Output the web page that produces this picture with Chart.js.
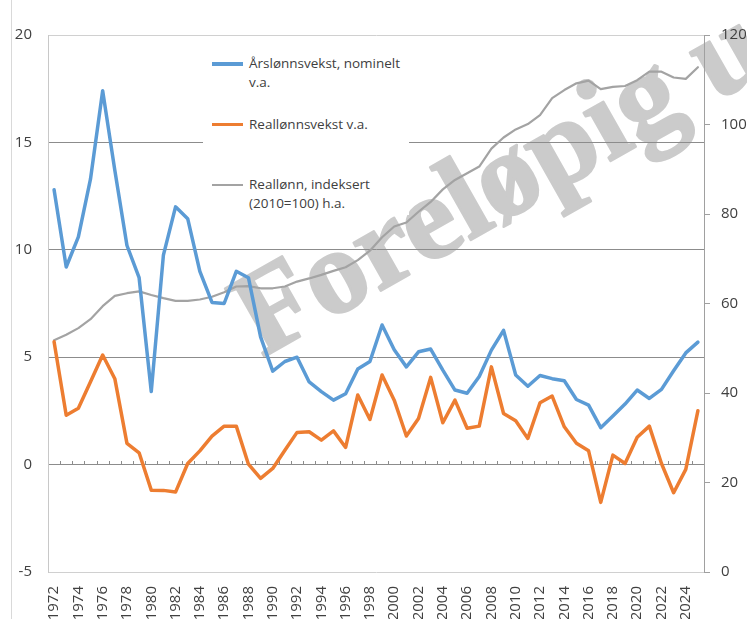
<!DOCTYPE html>
<html><head><meta charset="utf-8">
<script src="https://cdn.jsdelivr.net/npm/chart.js@4.4.1/dist/chart.umd.min.js"></script>
<style>
html,body{margin:0;padding:0;background:#fff;}
#wrap{position:relative;width:747px;height:619px;overflow:hidden;font-family:"Open Sans",sans-serif;}
#frame{position:absolute;left:11px;top:0;width:1px;height:619px;background:#d9d9d9;}
canvas{position:absolute;left:0;top:0;}
#legend{position:absolute;left:203px;top:45px;width:206px;height:170px;background:#fff;}
.sw{position:absolute;left:9px;width:31px;}
.lbl{position:absolute;left:46px;font-size:13.5px;line-height:18.5px;color:#404040;white-space:pre;}
</style></head><body>
<div id="wrap"><div id="frame"></div><canvas id="c" width="747" height="619"></canvas><div id="legend"></div></div>
<script>
const years = [1972,1973,1974,1975,1976,1977,1978,1979,1980,1981,1982,1983,1984,1985,1986,1987,1988,1989,1990,1991,1992,1993,1994,1995,1996,1997,1998,1999,2000,2001,2002,2003,2004,2005,2006,2007,2008,2009,2010,2011,2012,2013,2014,2015,2016,2017,2018,2019,2020,2021,2022,2023,2024,2025];
const nominalGrowth = [12.8,9.2,10.6,13.3,17.4,13.7,10.2,8.7,3.4,9.75,12.0,11.45,9.0,7.55,7.5,9.0,8.7,5.95,4.35,4.8,5.0,3.85,3.4,3.0,3.3,4.45,4.8,6.5,5.35,4.55,5.25,5.38,4.4,3.47,3.32,4.1,5.33,6.25,4.17,3.65,4.15,4.0,3.9,3.03,2.77,1.72,2.26,2.82,3.47,3.08,3.5,4.37,5.2,5.7];
const realGrowth = [5.72,2.3,2.62,3.86,5.1,4.0,0.99,0.55,-1.19,-1.2,-1.28,0.05,0.64,1.33,1.79,1.79,0.02,-0.64,-0.18,0.67,1.5,1.53,1.14,1.57,0.8,3.24,2.1,4.17,3.0,1.33,2.15,4.06,1.95,3.0,1.69,1.79,4.55,2.38,2.04,1.22,2.88,3.19,1.76,0.99,0.64,-1.76,0.44,0.05,1.27,1.79,0.05,-1.31,-0.22,2.51];
const realIndex = [51.8,53.0,54.5,56.5,59.4,61.7,62.3,62.7,61.9,61.2,60.6,60.6,60.9,61.5,62.5,63.8,63.9,63.4,63.4,63.8,64.9,65.6,66.4,67.3,68.1,69.7,71.8,74.8,77.2,78.1,80.5,82.7,85.5,87.6,89.1,90.6,94.6,97.1,98.9,100.1,102.1,105.9,107.7,109.2,109.8,107.9,108.4,108.6,109.9,111.8,111.8,110.5,110.2,112.8];
const seriesLabels = ['Årslønnsvekst, nominelt\nv.a.','Reallønnsvekst v.a.','Reallønn, indeksert\n(2010=100) h.a.'];
const seriesColors = ['#5b9bd5','#ed7d31','#a3a3a3'];
const leftTicks = {min:-5,max:20,step:5};
const rightTicks = {min:0,max:120,step:20};
const watermarkText = 'Foreløpig utgave';

// legend (HTML)
const legendCenters = [19, 79.3, 140];
const legendWidths = [3.5, 3.5, 2.5];
const leg = document.getElementById('legend');
seriesLabels.forEach((t,i)=>{
  const sw=document.createElement('div'); sw.className='sw';
  sw.style.top=(legendCenters[i]-legendWidths[i]/2)+'px'; sw.style.height=legendWidths[i]+'px'; sw.style.background=seriesColors[i];
  leg.appendChild(sw);
  const lb=document.createElement('div'); lb.className='lbl'; lb.textContent=t;
  lb.style.top=(legendCenters[i]-9.75)+'px'; leg.appendChild(lb);
});

const watermark = {id:'wm', beforeDraw(chart){
  const ctx=chart.ctx; ctx.save();
  ctx.translate(262,358); ctx.rotate(-29.5*Math.PI/180);
  ctx.font='bold 120px "Liberation Serif"'; ctx.fillStyle='#cbcbcb'; ctx.strokeStyle='#cbcbcb'; ctx.lineWidth=2.5; ctx.lineJoin='round';
  ctx.textBaseline='alphabetic'; ctx.fillText(watermarkText,0,0); ctx.strokeText(watermarkText,0,0); ctx.restore();
}};
const zeroTicks = {id:'zt', beforeDatasetsDraw(chart){
  const ctx=chart.ctx, xs=chart.scales.x, ys=chart.scales.y;
  const y0=Math.round(ys.getPixelForValue(0));
  ctx.save(); ctx.strokeStyle='#8c8c8c'; ctx.lineWidth=1; ctx.beginPath();
  for(let i=1;i<years.length;i++){
    const px=Math.round((xs.getPixelForValue(i-1)+xs.getPixelForValue(i))/2)+0.5;
    ctx.moveTo(px,y0); ctx.lineTo(px,y0-4);
  }
  ctx.stroke(); ctx.restore();
}};

const tickFont = {family:'"Open Sans"', size:15};
new Chart(document.getElementById('c'), {
  type:'line',
  data:{labels:years.map(String), datasets:[
    {label:seriesLabels[0], data:nominalGrowth, yAxisID:'y', borderColor:seriesColors[0], borderWidth:3.5, pointRadius:0, tension:0, borderJoinStyle:'round', borderCapStyle:'round', order:2},
    {label:seriesLabels[1], data:realGrowth, yAxisID:'y', borderColor:seriesColors[1], borderWidth:3.5, pointRadius:0, tension:0, borderJoinStyle:'round', borderCapStyle:'round', order:1},
    {label:seriesLabels[2], data:realIndex, yAxisID:'y2', borderColor:seriesColors[2], borderWidth:2.2, pointRadius:0, tension:0, borderJoinStyle:'round', borderCapStyle:'round', order:3}
  ]},
  options:{
    responsive:false, animation:false, devicePixelRatio:1,
    layout:{padding:{top:35,left:0,right:0,bottom:0}},
    plugins:{legend:{display:false}, tooltip:{enabled:false}},
    scales:{
      x:{type:'category', offset:true,
        grid:{display:false}, border:{display:false},
        ticks:{autoSkip:false, minRotation:90, maxRotation:90, padding:6, font:tickFont, color:'#404040',
          callback:function(v,i){return i%2===0 ? this.getLabelForValue(v) : null;}},
        afterFit:s=>{s.height=47;}},
      y:{position:'left', min:leftTicks.min, max:leftTicks.max,
        ticks:{stepSize:leftTicks.step, padding:16, font:tickFont, color:'#404040'},
        grid:{drawTicks:false, color:c=>(c.tick && (c.tick.value===leftTicks.min||c.tick.value===leftTicks.max))?'#d0d0d0':'#8c8c8c', lineWidth:1},
        border:{display:true, color:'#c8c8c8'},
        afterFit:s=>{s.width=48;}},
      y2:{position:'right', min:rightTicks.min, max:rightTicks.max,
        ticks:{stepSize:rightTicks.step, padding:11, font:tickFont, color:'#404040'},
        grid:{drawOnChartArea:false, drawTicks:true, tickLength:6, color:'#a0a0a0'},
        border:{display:true, color:'#a0a0a0'},
        afterFit:s=>{s.width=43;}}
    }
  },
  plugins:[watermark, zeroTicks]
});
</script>
</body></html>
